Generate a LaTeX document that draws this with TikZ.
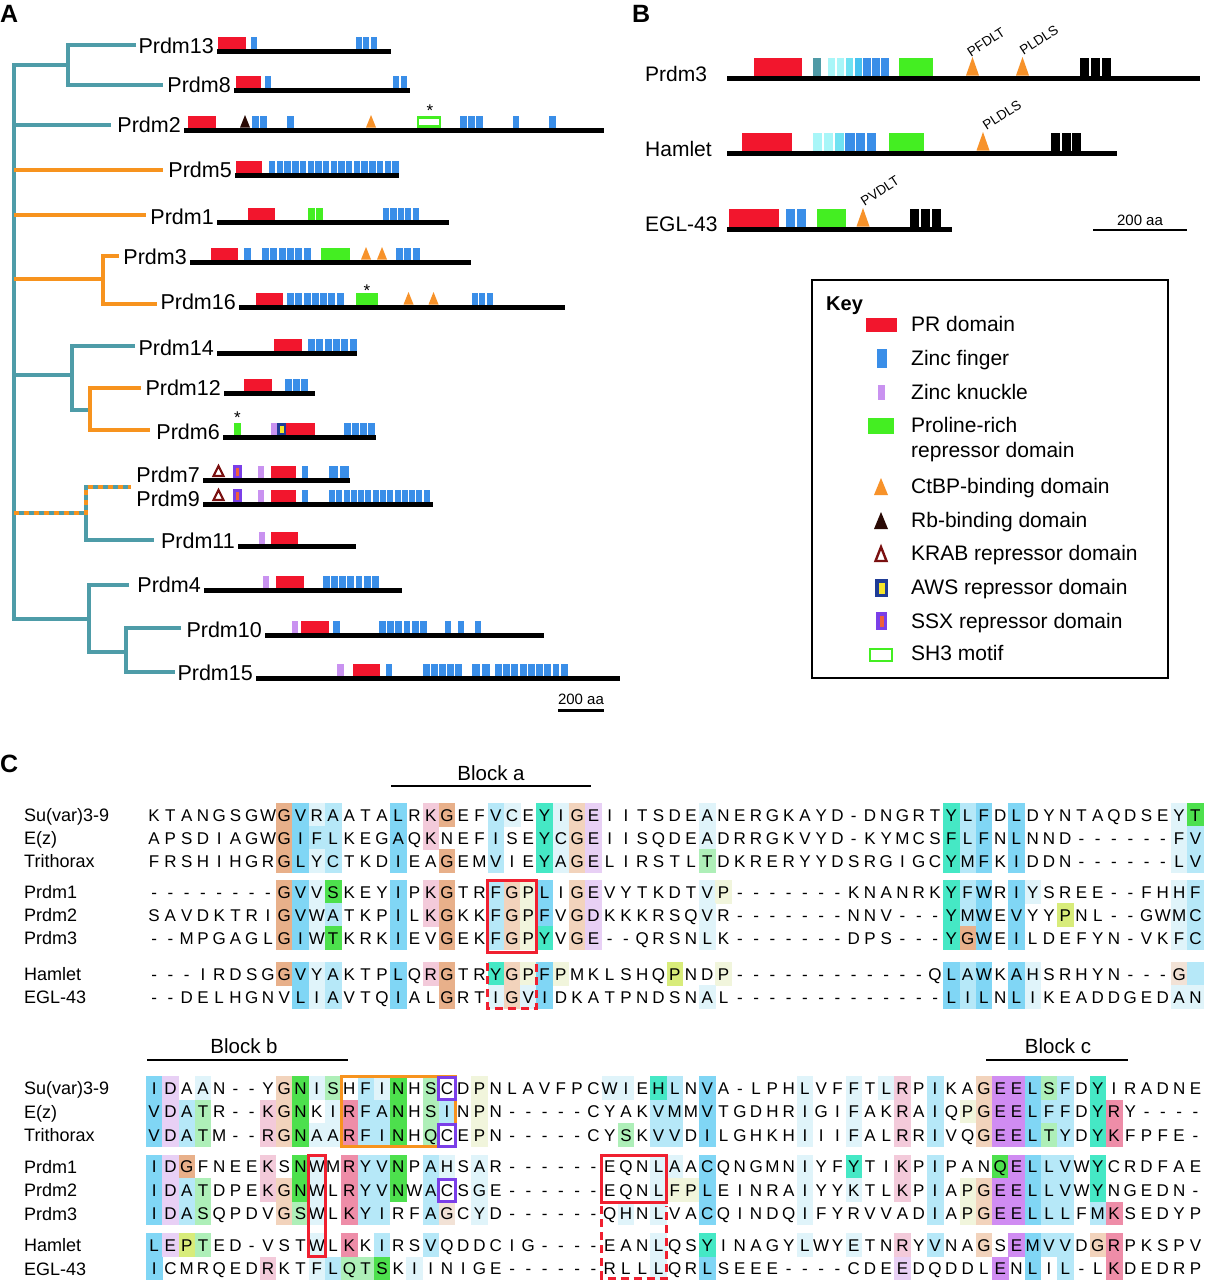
\documentclass[tikz,border=0pt]{standalone}
\usepackage{fontspec}
\setmainfont{Liberation Sans}
\definecolor{teal1}{HTML}{4E9CA8}
\definecolor{orng}{HTML}{F7931E}
\definecolor{prred}{HTML}{F2162D}
\definecolor{zfblue}{HTML}{3A8EE8}
\definecolor{knuck}{HTML}{C992F0}
\definecolor{prgreen}{HTML}{44EE22}
\definecolor{ctbp}{HTML}{F7922A}
\definecolor{rbbrown}{HTML}{2A0A05}
\definecolor{krab}{HTML}{7A1010}
\definecolor{awsnavy}{HTML}{1F3C96}
\definecolor{awsyel}{HTML}{F5E52A}
\definecolor{ssxpur}{HTML}{7B3FE8}
\definecolor{ssxfill}{HTML}{F0603A}
\definecolor{boxred}{HTML}{F02030}
\definecolor{bteal}{HTML}{4F9AA6}
\definecolor{cyA}{HTML}{A8F6F8}
\definecolor{cyB}{HTML}{70E2F2}
\definecolor{cyC}{HTML}{46C2F0}
% alignment cell colours
\definecolor{ccb}{HTML}{80D6F5}
\definecolor{ccc}{HTML}{B6E8F8}
\definecolor{ccd}{HTML}{E0F4FA}
\definecolor{cco}{HTML}{E8B08A}
\definecolor{ccq}{HTML}{F2D3BC}
\definecolor{ccp}{HTML}{F3CADA}
\definecolor{ccr}{HTML}{EE8DA8}
\definecolor{ccg}{HTML}{4DE04D}
\definecolor{cch}{HTML}{AEEFB8}
\definecolor{cct}{HTML}{45E8C5}
\definecolor{ccv}{HTML}{E8D0F5}
\definecolor{ccw}{HTML}{D08CF2}
\definecolor{ccy}{HTML}{D8EC7A}
\definecolor{ccz}{HTML}{F1F5DC}
\definecolor{cce}{HTML}{F2E2D6}
\newcount\colidx
\def\cw{16.27}
\def\cx{146}
\def\cellh{23.3}
\newcommand\seqrow[4]{%
  \def\rowid{#1}\def\rowy{#2}%
  \colidx=0 \mycellscan#4\relax
  \colidx=0 \myletscan#3\relax}
\def\mycellscan#1{\ifx\relax#1\else
  \advance\colidx by 1
  \ifx.#1\else\fill[cc#1] ({\cx+(\the\colidx-1)*\cw},{\rowy-\cellh/2}) rectangle ({\cx+\the\colidx*\cw+0.3},{\rowy+\cellh/2+0.3});\fi
  \expandafter\mycellscan\fi}
\def\myletscan#1{\ifx\relax#1\else
  \advance\colidx by 1
  \ifx.#1\else\edef\nodenm{s\rowid x\the\colidx}\node[aa] (\nodenm) at ({\cx+(\the\colidx-0.5)*\cw},{\rowy+6.2}) {#1};\fi
  \expandafter\myletscan\fi}
% panel A helpers
\newcommand\pprot[4]{\node[plab] (l#1) at ({#2-3},{#4+2.5}) {#1};
  \draw[bar] (#2,#4) -- (#3,#4);}
\newcommand\pdom[4]{\fill[#1] (#2,{#4-14}) rectangle (#3,{#4-2.5});}
\newcommand\pblocks[5]{\pgfmathsetmacro\bw{(#3-#2)/#4}%
  \foreach \k in {1,...,#4}{\fill[#1] ({#2+(\k-1)*\bw},{#5-14}) rectangle ({#2+\k*\bw-1.3},{#5-2.5});}}
\newcommand\ptri[3]{\fill[#1] ({#2-5},{#3-2.5}) -- ({#2+5},{#3-2.5}) -- (#2,{#3-15}) -- cycle;}
\newcommand\pkrab[2]{\draw[krab,line width=2.2pt,line join=miter] ({#1-5},{#2-4}) -- ({#1+5},{#2-4}) -- (#1,{#2-14}) -- cycle;}
\newcommand\pssx[2]{\fill[ssxpur] (#1,{#2-15}) rectangle ({#1+9},{#2-2.5});
  \fill[ssxfill] ({#1+3},{#2-12.5}) rectangle ({#1+6},{#2-4.5});}
\newcommand\paws[2]{\fill[awsnavy] (#1,{#2-14}) rectangle ({#1+9},{#2-2.5});
  \fill[awsyel] ({#1+2.5},{#2-11.5}) rectangle ({#1+6.5},{#2-4.5});}
% panel B helpers
\newcommand\bdom[4]{\fill[#1] (#2,{#4-20}) rectangle (#3,{#4-2.5});}
\newcommand\bblocks[5]{\pgfmathsetmacro\bw{(#3-#2)/#4}%
  \foreach \c [count=\k] in {#1}{\fill[\c] ({#2+(\k-1)*\bw},{#5-20}) rectangle ({#2+\k*\bw-1.5},{#5-2.5});}}
\newcommand\btri[2]{\fill[ctbp] ({#1-6.5},{#2-2.5}) -- ({#1+6.5},{#2-2.5}) -- (#1,{#2-21}) -- cycle;}
\begin{document}
\begin{tikzpicture}[x=1pt,y=-1pt,
  plab/.style={anchor=base east,inner sep=0pt,font=\fontsize{21.5}{22}\selectfont},
  blab/.style={anchor=base west,inner sep=0pt,font=\fontsize{21}{22}\selectfont},
  klab/.style={anchor=base west,inner sep=0pt,font=\fontsize{21}{22}\selectfont},
  nm/.style={anchor=base west,inner sep=0pt,font=\fontsize{18}{18}\selectfont},
  aa/.style={anchor=base,inner sep=0pt,font=\fontsize{17}{17}\selectfont},
  panel/.style={anchor=base west,inner sep=0pt,font=\fontsize{25}{25}\selectfont\bfseries},
  motif/.style={inner sep=0pt,font=\fontsize{13.5}{14}\selectfont,rotate=33},
  ast/.style={anchor=base,inner sep=0pt,font=\fontsize{17}{17}\selectfont},
  small/.style={anchor=base,inner sep=0pt,font=\fontsize{15}{15}\selectfont},
  blk/.style={anchor=base,inner sep=0pt,font=\fontsize{20.5}{21}\selectfont},
  tl/.style={teal1,line width=4pt,line join=miter},
  ol/.style={orng,line width=4pt,line join=miter},
  bar/.style={line width=5pt},
  rbox/.style={boxred,line width=3pt},
  rdash/.style={boxred,line width=3pt,dash pattern=on 8pt off 5pt},
  pbox/.style={ssxpur,line width=3pt},
]
\useasboundingbox (0,0) rectangle (1205,1280);
\fill[white] (0,0) rectangle (1205,1280);
% ---------- Panel labels
\node[panel] (pA) at (0,22) {A};
\node[panel] (pB) at (632,22) {B};
\node[panel] (pC) at (0,772) {C};
% ---------- Tree
\draw[tl] (14,63) -- (14,621);
\draw[tl] (136,45) -- (68,45) -- (68,85) -- (163,85);
\draw[tl] (68,65) -- (14,65);
\draw[tl] (14,125) -- (111,125);
\draw[ol] (14,170) -- (163,170);
\draw[ol] (14,215) -- (146,215);
\draw[ol] (14,279) -- (103,279);
\draw[ol] (119,256) -- (103,256) -- (103,304) -- (157,304);
\draw[tl] (14,375) -- (72,375);
\draw[tl] (135,346) -- (72,346) -- (72,410) -- (90,410);
\draw[ol] (141,388) -- (90,388) -- (90,430) -- (150,430);
\draw[tl] (86,511) -- (86,540) -- (154,540);
\draw[tl] (14,513) -- (86,513) -- (86,487) -- (131,487);
\draw[orng,line width=4pt,dash pattern=on 5pt off 5pt] (14,513) -- (86,513) -- (86,487) -- (131,487);
\draw[tl] (14,619) -- (89,619);
\draw[tl] (129,585) -- (89,585) -- (89,652) -- (126,652);
\draw[tl] (181,628) -- (126,628) -- (126,672) -- (175,672);
% ---------- Proteins panel A
\pprot{Prdm13}{217}{391}{51}
\pdom{prred}{218}{246}{51}
\pblocks{zfblue}{251}{258}{1}{51}
\pblocks{zfblue}{356}{378}{3}{51}
\pprot{Prdm8}{234}{410}{90}
\pdom{prred}{236}{261}{90}
\pblocks{zfblue}{265}{272}{1}{90}
\pblocks{zfblue}{393}{408}{2}{90}
\pprot{Prdm2}{184}{604}{130}
\pdom{prred}{188}{216}{130}
\ptri{rbbrown}{245}{130}
\pblocks{zfblue}{252}{268}{2}{130}
\pblocks{zfblue}{287}{295}{1}{130}
\ptri{ctbp}{371}{130}
\draw[prgreen,line width=2.5pt] (418,117.5) rectangle (440,126.5);
\node[ast] (ast1) at (430,116) {*};
\pblocks{zfblue}{460}{484}{3}{130}
\pblocks{zfblue}{513}{520}{1}{130}
\pblocks{zfblue}{549}{557}{1}{130}
\pprot{Prdm5}{235}{399}{175}
\pdom{prred}{236}{262}{175}
\pblocks{zfblue}{269}{400}{17}{175}
\pprot{Prdm1}{217}{449}{222}
\pdom{prred}{248}{275}{222}
\pblocks{prgreen}{308}{324}{2}{222}
\pblocks{zfblue}{383}{420}{5}{222}
\pprot{Prdm3}{190}{471}{262}
\pdom{prred}{211}{238}{262}
\pblocks{zfblue}{244}{252}{1}{262}
\pblocks{zfblue}{262}{312}{6}{262}
\pdom{prgreen}{321}{350}{262}
\ptri{ctbp}{366}{262}
\ptri{ctbp}{382}{262}
\pblocks{zfblue}{396}{421}{3}{262}
\pprot{Prdm16}{239}{565}{307}
\pdom{prred}{256}{283}{307}
\pblocks{zfblue}{287}{345}{7}{307}
\pdom{prgreen}{356}{378}{307}
\node[ast] (ast2) at (367,296) {*};
\ptri{ctbp}{408.5}{307}
\ptri{ctbp}{433.5}{307}
\pblocks{zfblue}{472}{494}{3}{307}
\pprot{Prdm14}{217}{357}{353}
\pdom{prred}{274}{302}{353}
\pblocks{zfblue}{308}{358}{6}{353}
\pprot{Prdm12}{224}{315}{393}
\pdom{prred}{244}{272}{393}
\pblocks{zfblue}{285}{309}{3}{393}
\pprot{Prdm6}{223}{376}{437}
\pdom{prgreen}{234}{241}{437}
\node[ast] (ast3) at (237.5,423) {*};
\pdom{knuck}{271}{277}{437}
\paws{277}{437}
\pdom{prred}{286}{315}{437}
\pblocks{zfblue}{344}{376}{4}{437}
\pprot{Prdm7}{203}{350}{480}
\pkrab{218.5}{480}
\pssx{233}{480}
\pdom{knuck}{258}{264}{480}
\pdom{prred}{271}{296}{480}
\pblocks{zfblue}{302}{309}{1}{480}
\pblocks{zfblue}{329}{350}{2}{480}
\pprot{Prdm9}{203}{433}{504}
\pkrab{218.5}{504}
\pssx{233}{504}
\pdom{knuck}{258}{264}{504}
\pdom{prred}{271}{296}{504}
\pblocks{zfblue}{302}{309}{1}{504}
\pblocks{zfblue}{329}{431}{14}{504}
\pprot{Prdm11}{238}{356}{546}
\pdom{knuck}{259}{265}{546}
\pdom{prred}{271}{298}{546}
\pprot{Prdm4}{204}{402}{590}
\pdom{knuck}{263}{269}{590}
\pdom{prred}{276}{304}{590}
\pblocks{zfblue}{323}{380}{7}{590}
\pprot{Prdm10}{265}{544}{635}
\pdom{knuck}{292}{298}{635}
\pdom{prred}{301}{329}{635}
\pblocks{zfblue}{333}{341}{1}{635}
\pblocks{zfblue}{379}{428}{6}{635}
\pblocks{zfblue}{445}{452}{1}{635}
\pblocks{zfblue}{458}{465}{1}{635}
\pblocks{zfblue}{475}{482}{1}{635}
\pprot{Prdm15}{256}{620}{678}
\pdom{knuck}{337}{344}{678}
\pdom{prred}{353}{380}{678}
\pblocks{zfblue}{386}{393}{1}{678}
\pblocks{zfblue}{423}{463}{5}{678}
\pblocks{zfblue}{472}{491}{2}{678}
\pblocks{zfblue}{495}{569}{9}{678}
\node[small] (scA) at (581,704) {200 aa};
\draw[line width=3pt] (558,710) -- (604,710);
% ---------- Panel B
\node[blab] (bP3) at (645,81) {Prdm3};
\draw[bar] (727,78) -- (1200,78);
\bdom{prred}{754}{802}{78}
\bdom{bteal}{813}{821}{78}
\bblocks{cyA,cyA,cyB,cyC,zfblue,zfblue,zfblue}{828}{890}{7}{78}
\bdom{prgreen}{899}{933}{78}
\btri{972.5}{78}
\btri{1022.5}{78}
\bblocks{black,black,black}{1080}{1112.5}{3}{78}
\node[motif] (m1) at (986,42) {PFDLT};
\node[motif] (m2) at (1039,40) {PLDLS};
\node[blab] (bHam) at (645,156) {Hamlet};
\draw[bar] (727,153) -- (1117,153);
\bdom{prred}{742}{792}{153}
\bblocks{cyA,cyA,cyB,zfblue,zfblue,zfblue}{813}{877.5}{6}{153}
\bdom{prgreen}{889}{924}{153}
\btri{983}{153}
\bblocks{black,black,black}{1051}{1082.5}{3}{153}
\node[motif] (m3) at (1002,115) {PLDLS};
\node[blab] (bEGL) at (645,231) {EGL-43};
\draw[bar] (727,229) -- (952,229);
\bdom{prred}{729}{779}{229}
\bblocks{zfblue,zfblue}{786}{807.5}{2}{229}
\bdom{prgreen}{817}{846}{229}
\btri{863}{229}
\bblocks{black,black,black}{910}{942.5}{3}{229}
\node[motif] (m4) at (880,191) {PVDLT};
\node[small] (scB) at (1140,225) {200 aa};
\draw[line width=2.5pt] (1093,230) -- (1187,230);
% ---------- Key
\draw[line width=1.5pt] (812,280) rectangle (1168,678);
\node[anchor=base west,inner sep=0pt,font=\fontsize{20}{20}\selectfont\bfseries] (key) at (826,310) {Key};
\fill[prred] (866,318) rectangle (897,332);
\node[klab] (k1) at (911,331) {PR domain};
\fill[zfblue] (877,349) rectangle (887,368);
\node[klab] (k2) at (911,365) {Zinc finger};
\fill[knuck] (878,385) rectangle (885,400);
\node[klab] (k3) at (911,399) {Zinc knuckle};
\fill[prgreen] (868,418) rectangle (894,434);
\node[klab] (k4) at (911,432) {Proline-rich};
\node[klab] (k4b) at (911,457) {repressor domain};
\fill[ctbp] (874,495) -- (888,495) -- (881,478) -- cycle;
\node[klab] (k5) at (911,493) {CtBP-binding domain};
\fill[rbbrown] (874,529) -- (888,529) -- (881,512) -- cycle;
\node[klab] (k6) at (911,527) {Rb-binding domain};
\draw[krab,line width=2.4pt,line join=miter] (875.5,561) -- (886.5,561) -- (881,547) -- cycle;
\node[klab] (k7) at (911,560) {KRAB repressor domain};
\fill[awsnavy] (875,579) rectangle (888,597);
\fill[awsyel] (878.5,582.5) rectangle (884.5,593.5);
\node[klab] (k8) at (911,594) {AWS repressor domain};
\fill[ssxpur] (876,612) rectangle (887,630);
\fill[ssxfill] (879.5,615.5) rectangle (883.5,626.5);
\node[klab] (k9) at (911,628) {SSX repressor domain};
\draw[prgreen,line width=2.5pt] (870,649) rectangle (892,661);
\node[klab] (k10) at (911,660) {SH3 motif};
% ---------- Panel C, top block
\node[blk] (bla) at (491,780) {Block a};
\draw[line width=2.5pt] (391,786) -- (591,786);
\node[nm] (n1) at (24,821.5) {Su(var)3-9};
\node[nm] (n2) at (24,844.5) {E(z)};
\node[nm] (n3) at (24,867.5) {Trithorax};
\node[nm] (n4) at (24,898.5) {Prdm1};
\node[nm] (n5) at (24,921.5) {Prdm2};
\node[nm] (n6) at (24,944.5) {Prdm3};
\node[nm] (n7) at (24,980.5) {Hamlet};
\node[nm] (n8) at (24,1003.5) {EGL-43};
\seqrow{ta}{815}{KTANGSGWGV RAATALRKGE FVCEYIGEII TSDEANERGK AYD-DNGRTY LFDLDYNTAQ DSEYT}
 {........ob dc...b.po. .cd.tdqv.. ....d..... .........t cb.b...... ...dg}
\seqrow{tb}{838}{APSDIAGWGI FLKEGAQKNE FISEYCGEII SQDEADRRGK VYD-KYMCSF LFNLNND--- ---FV}
 {........ob cc...b.p.. .c..tdqv.. ....d..... .........t cb.b...... ...dc}
\seqrow{tc}{861}{FRSHIHGRGL YCTKDIEAGE MVIEYAGELI RSTLTDKRER YYDSRGIGCY MFKIDDN--- ---LV}
 {........ob dc...b..o. .c..tdqv.. ....h..... .........t cb.b...... ...dc}
\seqrow{td}{892}{--------GV VSKEYIPKGT RFGPLIGEVY TKDTVP---- ---KNANRKY FWRIYSREE- -FHHF}
 {........ob dg...b.po. .cqzb.qv.. ....dz.... .........t cb.bd..... ...dc}
\seqrow{te}{915}{SAVDKTRIGV WATKPILKGK KFGPFVGDKK KRSQVR---- ---NNV---Y MWEVYYPNL- -GWMC}
 {........ob dc...b.po. .cqzb.qv.. ....d..... .........t cb.b..y... ...dc}
\seqrow{tf}{938}{--MPGAGLGI WTKRKIEVGE KFGPYVGE-- QRSNLK---- ---DPS---Y GWEILDEFYN -VKFC}
 {........ob dg...b..o. .cqzt.qv.. ....d..... .........t ob.b...... ...dc}
\seqrow{tg}{974}{---IRDSGGV YAKTPLQRGT RYGPFPMKLS HQPNDP---- --------QL AWKAHSRHYN ---G.}
 {........ob dc...b.po. .tqzbz.... ..y..z.... .........b cb.bd..... ...ec}
\seqrow{th}{997}{--DELHGNVL IAVTQIALGR TIGVIDKATP NDSNAL---- ---------L ILNLIKEADD GEDAN}
 {.........b dc...b..o. .dqdb..... ....d..... .........b cb.bd..... ...dd}
\draw[rbox] (487.7,880.5) rectangle (536.5,952);
\draw[rdash] (487.7,963) -- (487.7,1008) -- (536.5,1008) -- (536.5,963);
% ---------- Panel C, bottom block
\node[blk] (blb) at (244,1053) {Block b};
\draw[line width=2.5pt] (147,1060) -- (348,1060);
\node[blk] (blc) at (1058,1053) {Block c};
\draw[line width=2.5pt] (986,1060) -- (1128,1060);
\node[nm] (m1n) at (24,1094.5) {Su(var)3-9};
\node[nm] (m2n) at (24,1118) {E(z)};
\node[nm] (m3n) at (24,1141.5) {Trithorax};
\node[nm] (m4n) at (24,1173) {Prdm1};
\node[nm] (m5n) at (24,1196.5) {Prdm2};
\node[nm] (m6n) at (24,1220) {Prdm3};
\node[nm] (m7n) at (24,1251.5) {Hamlet};
\node[nm] (m8n) at (24,1275) {EGL-43};
\seqrow{ba}{1088}{IDAAN--YGN ISHFINHSCD PNLAVFPCWI EHLNVA-LPH LVFFTLRPIK AGEELSFDYI RADNE}
 {bv.d....qg dh.cdg.h.. z.......dd .tc.b..... d..d.dp.c. .qwwbhc.t. .....}
\seqrow{bb}{1111.5}{VDATR--KGN KIRFANHSIN PN-----CYA KVMMVTGDHR IGIFAKRAIQ PGEELFFDYR Y----}
 {bvch...pqg .drccg.hc. z......... .cc.b..... d..d..p.c. zqwwbcc.tr .....}
\seqrow{bc}{1135}{VDATM--RGN AARFINHQCE PN-----CYS KVVDILGHKH IIIFALRRIV QGEELTYDYK FPFE-}
 {bvch...pqg ddrccg.h.. z........h .cc.b..... d..d..p.c. .qwwbhc.tr .....}
\seqrow{bd}{1166.5}{IDGFNEEKSN WMRYVNPAHS AR------EQ NLAACQNGMN IYFYTIKPIP ANQELLVWYC RDFAE}
 {bvo....p.g d.rccg.cd. d......... .dd.b..... d..t..p.c. ..gwbcc.t. .....}
\seqrow{be}{1190}{IDATDPEKGN WLRYVNWACS GE------EQ NLFPLEINRA IYYKTLKPIA PGEELLVWYN GEDN-}
 {bvch...pqg d.rccg.c.. d......... .dzzb..... d..d..p.c. zqwwbcc.t. .....}
\seqrow{bf}{1213.5}{IDASQPDVGS WLKYIRFAGC YD------QH NLVACQINDQ IFYRVVADIA PGEELLLFMK SEDYP}
 {bvch....qh d.rcc..ce. d........d .d..b..... d.......c. zqwwbcc.cr .....}
\seqrow{bg}{1245}{LEPTED-VST WLKKIRSVQD DCIG----EA NLQSYINAGY LWYETNRYVN AGSEMVVDGR PKSPV}
 {bvyh...... d.r.c..c.. .......... .d..t..... d..d..p.c. .q.wbcc.qr .....}
\seqrow{bh}{1268.5}{ICMRQEDRKT FLQTSKIINI GE------RL LLQRLSEEE- ---CDEEDQD DLENLIL-LK DEDRP}
 {b......p.. dchhg.d... .......... .d..b..... ......v... ..w.b.c..r .....}
\draw[orng,line width=3pt] (341.2,1076.5) rectangle (455.1,1146.5);
\draw[pbox] (438.8,1077) rectangle (455.1,1099.5);
\draw[pbox] (438.8,1124) rectangle (455.1,1146.5);
\draw[pbox] (438.8,1179) rectangle (455.1,1201.5);
\draw[rbox] (308.7,1155) rectangle (325,1256);
\draw[rbox] (601.6,1155.5) rectangle (666.7,1202);
\draw[rdash] (601.6,1206) -- (601.6,1278) -- (666.7,1278) -- (666.7,1206);
\end{tikzpicture}
\end{document}
